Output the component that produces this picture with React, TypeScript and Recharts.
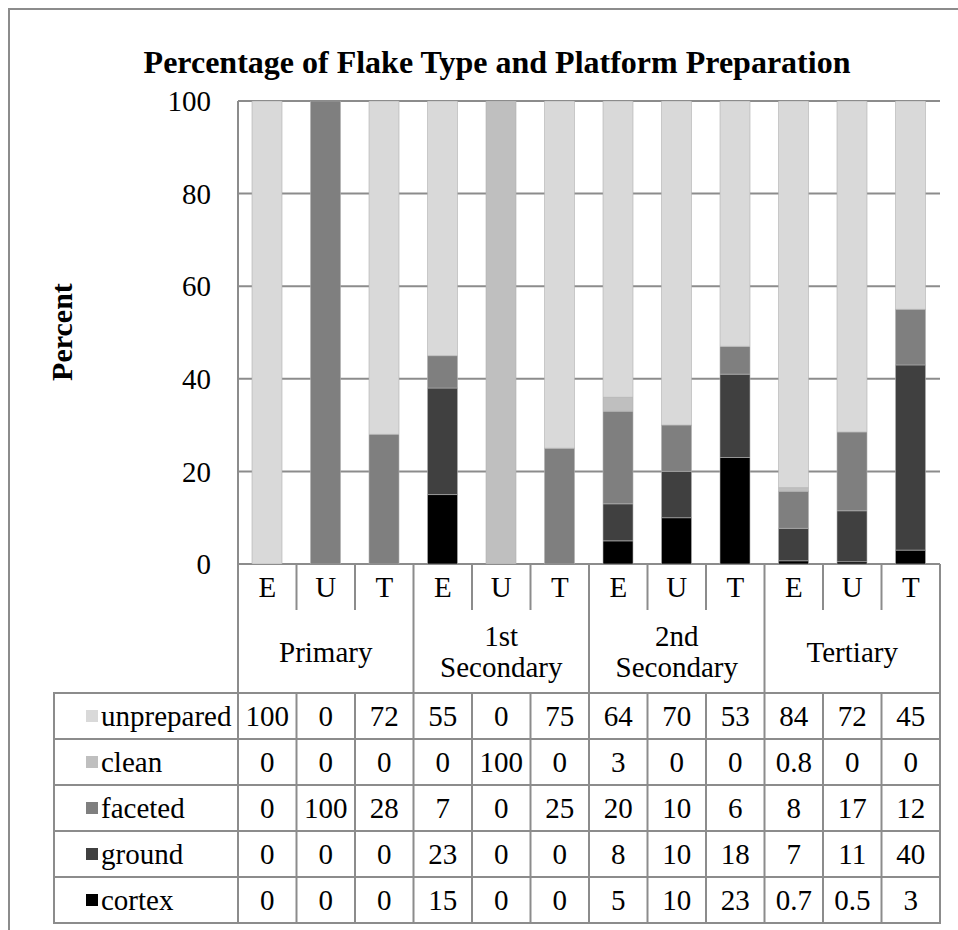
import { BarChart, Bar, XAxis, YAxis, CartesianGrid } from "recharts";

// flake type groups, each split into E / U / T
const subLabels = ["E", "U", "T", "E", "U", "T", "E", "U", "T", "E", "U", "T"];
const groupLabels = [["Primary"], ["1st", "Secondary"], ["2nd", "Secondary"], ["Tertiary"]];

const unprepared = [100, 0, 72, 55, 0, 75, 64, 70, 53, 84, 72, 45];
const clean = [0, 0, 0, 0, 100, 0, 3, 0, 0, 0.8, 0, 0];
const faceted = [0, 100, 28, 7, 0, 25, 20, 10, 6, 8, 17, 12];
const ground = [0, 0, 0, 23, 0, 0, 8, 10, 18, 7, 11, 40];
const cortex = [0, 0, 0, 15, 0, 0, 5, 10, 23, 0.7, 0.5, 3];

const yTicks = [0, 20, 40, 60, 80, 100];

// bottom of the stack first
const series = [
  { key: "cortex", values: cortex, color: "#000000" },
  { key: "ground", values: ground, color: "#404040" },
  { key: "faceted", values: faceted, color: "#7f7f7f" },
  { key: "clean", values: clean, color: "#bfbfbf" },
  { key: "unprepared", values: unprepared, color: "#d9d9d9" },
];

const data = subLabels.map((sub, i) => {
  const row: Record<string, number | string> = { id: `${i}`, sub };
  series.forEach((s) => (row[s.key] = s.values[i]));
  return row;
});

const W = 950;
const H = 922;
const PLOT_L = 230;
const PLOT_R = 932;
const PLOT_T = 93;
const PLOT_B = 556;
const BAND = (PLOT_R - PLOT_L) / subLabels.length;
const SUB_B = 602;
const GROUP_B = 685;
const ROW_H = 46;
const TABLE_L = 46;
const FONT = "'Liberation Serif', 'Times New Roman', serif";
const LINE = "#8c8c8c";

function TableOverlay() {
  const rows = [...series].reverse();
  const lines: JSX.Element[] = [];
  const texts: JSX.Element[] = [];
  const tableB = GROUP_B + ROW_H * rows.length;

  for (let k = 0; k <= subLabels.length; k++) {
    const x = PLOT_L + k * BAND;
    const isGroupEdge = k % 3 === 0;
    lines.push(
      <line key={`v${k}`} x1={x} x2={x} y1={PLOT_B} y2={isGroupEdge ? tableB : SUB_B} stroke={LINE} strokeWidth={2} />
    );
    if (!isGroupEdge) {
      lines.push(<line key={`vd${k}`} x1={x} x2={x} y1={GROUP_B} y2={tableB} stroke={LINE} strokeWidth={2} />);
    }
  }
  lines.push(<line key="vl" x1={TABLE_L} x2={TABLE_L} y1={GROUP_B} y2={tableB} stroke={LINE} strokeWidth={2} />);
  for (let r = 0; r <= rows.length; r++) {
    const y = GROUP_B + r * ROW_H;
    lines.push(<line key={`h${r}`} x1={TABLE_L - 1} x2={PLOT_R + 1} y1={y} y2={y} stroke={LINE} strokeWidth={2} />);
  }

  subLabels.forEach((s, i) => {
    texts.push(
      <text key={`s${i}`} x={PLOT_L + (i + 0.5) * BAND} y={(PLOT_B + SUB_B) / 2} textAnchor="middle" dominantBaseline="central">
        {s}
      </text>
    );
  });
  groupLabels.forEach((g, i) => {
    const cx = PLOT_L + (i * 3 + 1.5) * BAND;
    const cy = (SUB_B + GROUP_B) / 2;
    const lh = 31;
    g.forEach((line, j) => {
      texts.push(
        <text key={`g${i}-${j}`} x={cx} y={cy + (j - (g.length - 1) / 2) * lh} textAnchor="middle" dominantBaseline="central">
          {line}
        </text>
      );
    });
  });
  rows.forEach((s, r) => {
    const cy = GROUP_B + (r + 0.5) * ROW_H;
    texts.push(<rect key={`k${r}`} x={TABLE_L + 32} y={cy - 6} width={12} height={12} fill={s.color} />);
    texts.push(
      <text key={`l${r}`} x={TABLE_L + 47} y={cy} dominantBaseline="central">
        {s.key}
      </text>
    );
    s.values.forEach((v, i) => {
      texts.push(
        <text key={`c${r}-${i}`} x={PLOT_L + (i + 0.5) * BAND} y={cy} textAnchor="middle" dominantBaseline="central">
          {String(v)}
        </text>
      );
    });
  });

  return (
    <svg width={W} height={H} style={{ position: "absolute", left: 0, top: 0, pointerEvents: "none" }}>
      {lines}
      <g fontFamily={FONT} fontSize={29} fill="#000">
        {texts}
      </g>
      <text x={489} y={65} textAnchor="middle" fontFamily={FONT} fontSize={32} fontWeight="bold">
        Percentage of Flake Type and Platform Preparation
      </text>
      <text
        x={53}
        y={324}
        transform="rotate(-90 53 324)"
        textAnchor="middle"
        dominantBaseline="central"
        fontFamily={FONT}
        fontSize={30}
        fontWeight="bold"
      >
        Percent
      </text>
    </svg>
  );
}

export default function App() {
  return (
    <>
      <style>{"body{margin:0;overflow:hidden;}"}</style>
      <div style={{ position: "relative", marginLeft: 8, marginTop: 8, width: W, height: H, overflow: "hidden", background: "#fff" }}>
        <div style={{ position: "absolute", left: 0, top: 0, width: W + 10, height: H + 10, borderTop: `2px solid ${LINE}`, borderLeft: `2px solid ${LINE}` }} />
        <BarChart
          width={W}
          height={H}
          data={data}
          margin={{ top: PLOT_T, right: W - PLOT_R, bottom: H - PLOT_B, left: PLOT_L - 60 }}
          barSize={30}
        >
          <CartesianGrid vertical={false} stroke={LINE} strokeWidth={2} />
          <XAxis dataKey="id" hide />
          <YAxis
            width={60}
            domain={[0, 100]}
            ticks={yTicks}
            allowDataOverflow
            interval={0}
            tickLine={false}
            tickSize={0}
            tickMargin={27}
            axisLine={{ stroke: LINE, strokeWidth: 2 }}
            tick={{ fill: "#000", fontSize: 29, fontFamily: FONT }}
          />
          {series.map((s) => (
            <Bar
              key={s.key}
              dataKey={s.key}
              stackId="a"
              fill={s.color}
              stroke="#b0b0b0"
              strokeWidth={0.6}
              isAnimationActive={false}
            />
          ))}
        </BarChart>
        <TableOverlay />
      </div>
    </>
  );
}
